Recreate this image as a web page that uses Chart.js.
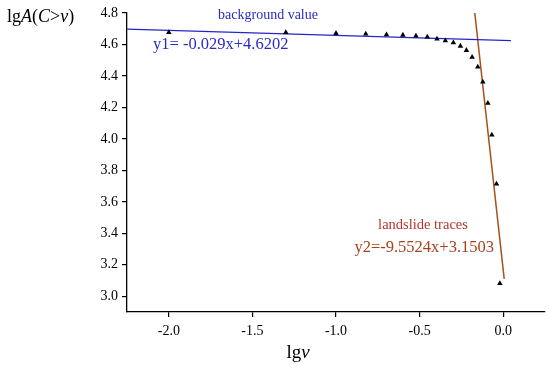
<!DOCTYPE html>
<html><head><meta charset="utf-8">
<script src="https://cdn.jsdelivr.net/npm/chart.js@4.4.1/dist/chart.umd.min.js"></script>
<style>html,body{margin:0;padding:0;background:#fff}#wrap{width:550px;height:369px}</style>
</head><body><div id="wrap"><canvas id="c" width="550" height="369"></canvas></div>
<script>
// Observed data: lg v vs lg A(C>v)
const lgV = [-2.0, -1.30, -1.0, -0.822, -0.698, -0.600, -0.522, -0.454, -0.396, -0.346, -0.298, -0.256, -0.220, -0.186, -0.152, -0.122, -0.092, -0.068, -0.040, -0.020];
const lgA = [4.677, 4.677, 4.671, 4.667, 4.662, 4.660, 4.654, 4.648, 4.635, 4.624, 4.611, 4.590, 4.563, 4.519, 4.457, 4.362, 4.227, 4.025, 3.714, 3.081];
// Fitted lines (endpoints as drawn)
const line1X = [-2.25, 0.046];
const line1Y = [4.698, 4.624];
const line2X = [-0.170, 0.006];
const line2Y = [4.80, 3.111];
const xTicks = [-2.0, -1.5, -1.0, -0.5, 0.0];
const yTicks = [3.0, 3.2, 3.4, 3.6, 3.8, 4.0, 4.2, 4.4, 4.6, 4.8];
const labels1 = ["background value", "y1= -0.029x+4.6202"];
const labels2 = ["landslide traces", "y2=-9.5524x+3.1503"];

const SERIF = "'Liberation Serif','Times New Roman',serif";

function drawMixed(ctx, parts, x, y, size, align) {
  let total = 0;
  parts.forEach(p => { ctx.font = (p[1] ? 'italic ' : '') + size + 'px ' + SERIF; total += ctx.measureText(p[0]).width; });
  let cx = align === 'center' ? x - total / 2 : x;
  ctx.textAlign = 'left';
  parts.forEach(p => { ctx.font = (p[1] ? 'italic ' : '') + size + 'px ' + SERIF; ctx.fillText(p[0], cx, y); cx += ctx.measureText(p[0]).width; });
}

const textPlugin = {
  id: 'texts',
  afterDraw(chart) {
    const ctx = chart.ctx;
    ctx.save();
    ctx.fillStyle = '#000';
    ctx.textBaseline = 'middle';
    drawMixed(ctx, [['lg', false], ['A', true], ['(', false], ['C', true], ['>', false], ['v', true], [')', false]], 7, 17, 18, 'left');
    drawMixed(ctx, [['lg', false], ['v', true]], 298, 353, 19, 'center');
    ctx.textAlign = 'center';
    ctx.fillStyle = '#2a2ac8';
    ctx.font = '14px ' + SERIF;
    ctx.fillText(labels1[0], 268, 15);
    ctx.font = '16.5px ' + SERIF;
    ctx.textAlign = 'left';
    ctx.fillText(labels1[1], 153, 45);
    ctx.fillStyle = '#b5352a';
    ctx.font = '14.5px ' + SERIF;
    ctx.textAlign = 'center';
    ctx.fillText(labels2[0], 423, 225);
    ctx.fillStyle = '#a8401e';
    ctx.font = '16.5px ' + SERIF;
    ctx.textAlign = 'right';
    ctx.fillText(labels2[1], 494, 248);
    ctx.restore();
  }
};

new Chart(document.getElementById('c'), {
  type: 'scatter',
  data: {
    datasets: [
      { data: lgV.map((v, i) => ({x: v, y: lgA[i]})), pointStyle: 'triangle', pointRadius: 3.2, backgroundColor: '#000', borderColor: '#000', borderWidth: 0, showLine: false, order: 1 },
      { data: line1X.map((v, i) => ({x: v, y: line1Y[i]})), showLine: true, borderColor: '#2424cc', borderWidth: 1.3, pointRadius: 0, order: 2 },
      { data: line2X.map((v, i) => ({x: v, y: line2Y[i]})), showLine: true, borderColor: '#a5501e', borderWidth: 1.5, pointRadius: 0, order: 2 }
    ]
  },
  options: {
    responsive: false, animation: false, devicePixelRatio: 1,
    layout: { padding: { left: 0, right: 5, top: 13, bottom: 0 } },
    plugins: { legend: { display: false }, tooltip: { enabled: false } },
    scales: {
      x: {
        type: 'linear', min: -2.25, max: 0.25,
        afterBuildTicks: s => { s.ticks = xTicks.map(v => ({value: v})); },
        afterFit: s => { s.height = 57; },
        ticks: { callback: v => v.toFixed(1), color: '#000', font: { family: SERIF, size: 14 }, padding: 6, maxRotation: 0 },
        grid: { display: true, drawOnChartArea: false, drawTicks: true, tickLength: 5, color: '#000', lineWidth: 1.2 },
        border: { display: true, color: '#000', width: 1.3 }
      },
      y: {
        type: 'linear', min: 2.9, max: 4.8,
        afterBuildTicks: s => { s.ticks = yTicks.map(v => ({value: v})); },
        afterFit: s => { s.width = 127; },
        ticks: { callback: v => v.toFixed(1), color: '#000', font: { family: SERIF, size: 14 }, padding: 4 },
        grid: { display: true, drawOnChartArea: false, drawTicks: true, tickLength: 5, color: '#000', lineWidth: 1.2 },
        border: { display: true, color: '#000', width: 1.3 }
      }
    }
  },
  plugins: [textPlugin]
});
</script></body></html>
